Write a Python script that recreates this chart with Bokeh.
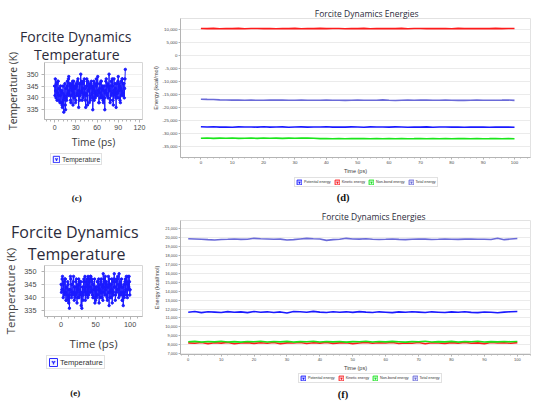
import numpy as np
from bokeh.plotting import figure
from bokeh.layouts import row, column
from bokeh.models import (Legend, LegendItem, FixedTicker, NumeralTickFormatter,
                          ColumnDataSource, Range1d, Title)
from bokeh.core.properties import value
from bokeh.embed import file_html
from bokeh.resources import INLINE

# ---------------- data ----------------
# (c) temperature, K, sampled every 0.5 ps from 0 to 100 ps
c_temp = [
    345, 341, 348, 343, 340, 346, 346, 339, 342, 347, 347, 341, 339, 344, 344, 338, 341, 345, 338, 343,
    343, 337, 336, 342, 345, 339, 334, 341, 340, 346, 337, 335, 344, 340, 339, 345, 347, 341, 342, 348,
    349, 343, 341, 346, 345, 339, 338, 344, 346, 341, 343, 347, 337, 342, 347, 340, 340, 345, 344, 338,
    339, 346, 345, 341, 342, 347, 348, 343, 336, 341, 346, 339, 341, 346, 350, 342, 343, 347, 339, 344,
    346, 340, 342, 347, 348, 341, 344, 339, 336, 342, 345, 348, 341, 337, 347, 343, 343, 346, 338, 344,
    345, 339, 340, 346, 347, 341, 342, 345, 335, 340, 344, 347, 339, 343, 346, 340, 342, 345, 348, 342,
    341, 346, 349, 343, 343, 338, 338, 344, 346, 340, 342, 347, 347, 341, 340, 345, 344, 339, 338, 343,
    345, 340, 335, 342, 343, 347, 348, 342, 341, 345, 346, 340, 340, 345, 350, 344, 343, 338, 339, 345,
    347, 341, 342, 348, 345, 339, 337, 343, 348, 342, 341, 346, 344, 340, 336, 342, 346, 340, 342, 347,
    349, 343, 340, 346, 345, 339, 338, 344, 347, 341, 343, 348, 348, 342, 341, 346, 346, 340, 344, 348,
    352]

# (e) temperature, K, sampled every 0.5 ps
e_temp = [
    345, 342, 343, 347, 348, 343, 340, 345, 346, 341, 342, 347, 347, 342, 339, 344, 344, 339, 341, 346,
    345, 340, 338, 343, 336, 341, 343, 348, 347, 342, 340, 345, 345, 341, 342, 346, 348, 342, 339, 344,
    344, 340, 341, 346, 347, 342, 338, 343, 345, 340, 343, 347, 340, 345, 346, 341, 342, 346, 337, 341,
    336, 342, 344, 339, 341, 346, 347, 342, 343, 348, 339, 344, 346, 341, 342, 347, 345, 340, 348, 344,
    341, 346, 347, 342, 344, 348, 348, 343, 342, 347, 346, 341, 340, 345, 345, 340, 343, 347, 338, 343,
    339, 344, 344, 340, 341, 346, 346, 341, 343, 347, 338, 343, 345, 340, 342, 346, 347, 342, 340, 345,
    344, 339, 349, 344, 342, 347, 346, 341, 348, 343, 341, 346, 345, 340, 339, 344, 344, 348, 342, 337,
    347, 342, 340, 345, 345, 340, 343, 347, 338, 342, 346, 341, 342, 347, 349, 344, 344, 339, 341, 346,
    347, 342, 343, 347, 348, 343, 345, 340, 349, 344, 341, 345, 346, 341, 342, 347, 344, 339, 339, 344,
    337, 342, 345, 340, 341, 346, 347, 342, 343, 348, 346, 341, 340, 345, 348, 343, 344, 348, 346, 341,
    343]

# (d) energies, kcal/mol, sampled every 2 ps
d_pot = [
    -27520, -27610, -27480, -27650, -27570, -27690, -27530, -27620, -27580, -27660,
    -27510, -27640, -27590, -27550, -27670, -27600, -27530, -27640, -27570, -27610,
    -27490, -27630, -27580, -27660, -27540, -27600, -27680, -27560, -27620, -27590,
    -27650, -27530, -27610, -27700, -27580, -27640, -27560, -27690, -27620, -27580,
    -27660, -27610, -27700, -27590, -27650, -27620, -27680, -27600, -27660, -27630,
    -27690]
d_kin = [
    10520, 10480, 10560, 10450, 10530, 10490, 10570, 10440, 10510, 10550,
    10470, 10530, 10460, 10540, 10500, 10580, 10450, 10520, 10490, 10560,
    10470, 10530, 10510, 10440, 10550, 10490, 10570, 10460, 10520, 10500,
    10540, 10480, 10560, 10450, 10530, 10510, 10470, 10550, 10490, 10520,
    10460, 10580, 10500, 10530, 10470, 10540, 10490, 10560, 10480, 10520,
    10510]
d_nb = [
    -31950, -31880, -32010, -31920, -31970, -31860, -31990, -31930, -31900, -31980,
    -31870, -31950, -31910, -31990, -31890, -31960, -31920, -31880, -31970, -32110,
    -32060, -32140, -32080, -32120, -32050, -32110, -32080, -32140, -32060, -32120,
    -32090, -32150, -32070, -32130, -32100, -32060, -32140, -32090, -32120, -32080,
    -32150, -32100, -32070, -32130, -32090, -32140, -32110, -32060, -32120, -32100,
    -32130]
d_tot = [
    -16850, -16920, -16980, -17080, -17150, -17200, -17180, -17220, -17200, -17250,
    -17230, -17200, -17180, -17210, -17250, -17230, -17200, -17220, -17260, -17240,
    -17210, -17230, -17250, -17280, -17240, -17200, -17230, -17270, -17250, -17100,
    -17220, -17310, -17260, -17200, -17240, -17150, -17190, -17260, -17240, -17200,
    -17230, -17280, -17300, -17260, -17210, -17250, -17270, -17240, -17200, -17150,
    -17280]

# (f) energies, kcal/mol, sampled every 2 ps
f_pot = [
    11650, 11720, 11600, 11700, 11660, 11620, 11710, 11640, 11680, 11600,
    11730, 11650, 11690, 11620, 11680, 11560, 11720, 11700, 11640, 11740,
    11660, 11620, 11700, 11650, 11690, 11630, 11710, 11660, 11620, 11690,
    11650, 11600, 11680, 11640, 11700, 11660, 11620, 11690, 11650, 11610,
    11680, 11640, 11700, 11630, 11600, 11670, 11640, 11590, 11660, 11700,
    11720]
f_kin = [
    8200, 8150, 8240, 8120, 8210, 8170, 8260, 8100, 8190, 8230,
    8140, 8220, 8160, 8250, 8110, 8200, 8180, 8240, 8130, 8210,
    8170, 8250, 8140, 8200, 8230, 8120, 8190, 8260, 8150, 8210,
    8180, 8240, 8130, 8200, 8160, 8250, 8110, 8220, 8190, 8140,
    8230, 8170, 8260, 8150, 8200, 8120, 8240, 8180, 8210, 8160,
    8230]
f_nb = [
    8330, 8370, 8290, 8350, 8310, 8380, 8300, 8340, 8280, 8360,
    8320, 8390, 8300, 8350, 8310, 8370, 8290, 8340, 8330, 8380,
    8300, 8350, 8310, 8360, 8290, 8340, 8320, 8380, 8300, 8350,
    8310, 8370, 8330, 8290, 8360, 8320, 8380, 8300, 8340, 8310,
    8370, 8290, 8350, 8320, 8380, 8300, 8340, 8310, 8360, 8330,
    8350]
f_tot = [
    19900, 19880, 19850, 19800, 19760, 19820, 19840, 19870, 19830, 19850,
    19950, 19900, 19870, 19840, 19860, 19760, 19800, 19880, 19950, 19900,
    19870, 19720, 19800, 19850, 19950, 19880, 19860, 19900, 19850, 19820,
    19840, 19870, 19830, 19800, 19850, 19880, 19860, 19820, 19840, 19870,
    19850, 19830, 19860, 19880, 19840, 19850, 19820, 19950, 19800, 19870,
    19930]

series_names = ["Potential energy", "Kinetic energy", "Non-bond energy", "Total energy"]
series_colors = ["#1a1aff", "#ff1a1a", "#1ae61a", "#6a6ad8"]
temp_color = "#1a1aff"

c_xticks = [0, 30, 60, 90, 120]
e_xticks = [0, 50, 100]
temp_yticks = [335, 340, 345, 350]
energy_xticks = list(range(0, 101, 10))
d_yticks = list(range(-35000, 10001, 5000))
f_yticks = list(range(7000, 21001, 1000))

LAB_FONT = "Open Sans"
TICK_FONT = "Liberation Sans"
CAP_FONT = "Liberation Serif"
AX_COL = "#b4b4b4"
TXT_COL = "#2b2b3b"

# frame borders shared by the figures of a column (left, right)
L_MB = (40, 4)
R_MB = (34, 4)


def bottom_fig(W, h, mb):
    p = figure(width=W, height=h, x_range=Range1d(mb[0], W - mb[1]), y_range=Range1d(h, 0),
               min_border_left=mb[0], min_border_right=mb[1], min_border_top=0, min_border_bottom=0,
               x_axis_type=None, y_axis_type=None,
               output_backend="svg", toolbar_location=None)
    p.outline_line_color = None
    return p


def put_text(p, x, y, txt, font, size, style="normal", color=TXT_COL):
    p.text(x=[x], y=[y], text=[txt], text_font=value(font), text_font_size=value(size),
           text_font_style=value(style), text_color=color,
           text_align="center", text_baseline="middle")


def add_legend(p, entries, loc, fsize, glyph, spacing):
    items = []
    for name, col in entries:
        src = ColumnDataSource(dict(l=[-60], r=[-50], b=[-60], t=[-50], x=[-55], y=[-55]))
        box = p.quad(left="l", right="r", bottom="b", top="t", source=src,
                     fill_color="#f2f4ff", line_color=col, line_width=1)
        chk = p.scatter("x", "y", source=src, marker="y", angle=np.pi, size=4,
                        line_color=col, line_width=1.3)
        items.append(LegendItem(label=name, renderers=[box, chk]))
    leg = Legend(items=items, location=loc, orientation="horizontal",
                 label_text_font=TICK_FONT, label_text_font_size=fsize,
                 label_text_color="#333333",
                 glyph_width=glyph, glyph_height=glyph, label_height=glyph,
                 label_standoff=2, padding=1, margin=0, spacing=spacing,
                 border_line_color="#c4c4c4", background_fill_color="white")
    p.add_layout(leg, "center")


def add_titles(p, lines, size, offsets, standoffs):
    # right-aligned titles; offset = distance of the text's right end from the frame's right edge
    for txt, off, so in zip(lines, offsets, standoffs):
        p.add_layout(Title(text=txt, align="right", offset=off, standoff=so,
                           text_font=LAB_FONT, text_font_size=size, text_font_style="normal",
                           text_color=TXT_COL), "above")


def style_axes(p, tick_size, lab_size, lab_font):
    for ax in (p.xaxis[0], p.yaxis[0]):
        ax.axis_line_color = AX_COL
        ax.major_tick_line_color = AX_COL
        ax.minor_tick_line_color = AX_COL
        ax.major_label_text_font = TICK_FONT
        ax.major_label_text_font_size = tick_size
        ax.major_label_text_color = "#484848"
        ax.axis_label_text_font = lab_font
        ax.axis_label_text_font_size = lab_size
        ax.axis_label_text_font_style = "normal"
        ax.axis_label_text_color = "#3a3a3a"


def temp_chart(W, H, top, bot, xr, yr, xticks, temps, tick_size, lab_size, y_std, x_lstd, y_lstd):
    p = figure(width=W, height=H, x_range=Range1d(*xr), y_range=Range1d(*yr),
               output_backend="svg", toolbar_location=None,
               min_border_left=L_MB[0], min_border_right=L_MB[1],
               min_border_top=top, min_border_bottom=bot)
    p.outline_line_color = "#d6d6d6"
    p.xgrid.visible = False
    p.ygrid.grid_line_color = "#f0f0f0"
    t = np.linspace(0, 100, len(temps))
    src = ColumnDataSource(dict(t=t, T=temps))
    p.line("t", "T", source=src, line_color=temp_color, line_width=1)
    p.scatter("t", "T", source=src, size=2.4, color=temp_color)
    step = xticks[1] - xticks[0]
    p.xaxis.ticker = FixedTicker(ticks=xticks,
                                 minor_ticks=[xticks[0] + k * step / 5 for k in range(-5, 5 * len(xticks) + 1)])
    p.yaxis.ticker = FixedTicker(ticks=temp_yticks, minor_ticks=[])
    p.xaxis.axis_label = "Time (ps)"
    p.yaxis.axis_label = "Temperature (K)"
    style_axes(p, tick_size, lab_size, LAB_FONT)
    for ax, std, lstd in ((p.xaxis[0], 2, x_lstd), (p.yaxis[0], y_std, y_lstd)):
        ax.major_tick_out = 3
        ax.major_tick_in = 0
        ax.minor_tick_out = 2
        ax.minor_tick_in = 0
        ax.major_label_standoff = std
        ax.axis_label_standoff = lstd
    return p


def energy_chart(W, H, top, bot, xr, yr, yticks, data, tick_size, y_lstd):
    p = figure(width=W, height=H, x_range=Range1d(*xr), y_range=Range1d(*yr),
               output_backend="svg", toolbar_location=None,
               min_border_left=R_MB[0], min_border_right=R_MB[1],
               min_border_top=top, min_border_bottom=bot)
    p.outline_line_color = "#e2e2e2"
    p.xgrid.visible = False
    p.ygrid.grid_line_color = "#ebebeb"
    for col, vals in zip(series_colors, data):
        t = np.linspace(0, 100, len(vals))
        src = ColumnDataSource(dict(t=t, E=vals))
        p.line("t", "E", source=src, line_color=col, line_width=1.6)
    p.xaxis.ticker = FixedTicker(ticks=energy_xticks, minor_ticks=list(range(-6, 106, 2)))
    p.yaxis.ticker = FixedTicker(ticks=yticks, minor_ticks=[])
    p.yaxis.formatter = NumeralTickFormatter(format="0,0")
    p.xaxis.axis_label = "Time (ps)"
    p.yaxis.axis_label = "Energy (kcal/mol)"
    style_axes(p, tick_size, "5.6px", TICK_FONT)
    p.xaxis.axis_label_text_font_size = "5.5px"
    for ax in (p.xaxis[0], p.yaxis[0]):
        ax.major_tick_out = 2
        ax.major_tick_in = 0
        ax.minor_tick_out = 1
        ax.minor_tick_in = 0
        ax.major_label_standoff = 1
    p.xaxis.axis_label_standoff = 1
    p.yaxis.axis_label_standoff = y_lstd
    return p


# ---------------- panel (c) ----------------
c_chart = temp_chart(146, 151, 62, 28, (-14.3, 124.3), (330.9, 354.9), c_xticks, c_temp,
                     "7px", "10.3px", 3, 2, 4)
add_titles(c_chart, ["Temperature", "Forcite Dynamics"], "14px", [23, 11], [-2, -5])
c_bot = bottom_fig(146, 53, L_MB)
add_legend(c_bot, [("Temperature", "#2a2aff")], (6, 39), "6.8px", 8, 4)
put_text(c_bot, 73.5, 46, "(c)", CAP_FONT, "9px", "bold", "#111111")

# ---------------- panel (e) ----------------
e_chart = temp_chart(146, 149, 61, 36, (-24.1, 117.9), (332.9, 352.1), e_xticks, e_temp,
                     "7.3px", "11.4px", 5, 6, 3)
add_titles(e_chart, ["Temperature", "Forcite Dynamics"], "16px", [17, 4], [1, -5])
e_bot = bottom_fig(146, 49, L_MB)
add_legend(e_bot, [("Temperature", "#2a2aff")], (2, 33), "7.6px", 10, 4)
put_text(e_bot, 72, 39.3, "(e)", CAP_FONT, "9px", "bold", "#111111")

# ---------------- panel (d) ----------------
d_chart = energy_chart(388, 176, 18, 16, (-6.5, 105.1), (-39400, 14400), d_yticks,
                       [d_pot, d_kin, d_nb, d_tot], "4.4px", 1)
add_titles(d_chart, ["Forcite Dynamics Energies"], "8.5px", [112], [0])
d_bot = bottom_fig(388, 28, R_MB)
add_legend(d_bot, list(zip(series_names, series_colors)), (114, 17), "3.7px", 6, 3)
put_text(d_bot, 196.6, 21.2, "(d)", CAP_FONT, "10.5px", "bold", "#111111")

# ---------------- panel (f) ----------------
f_chart = energy_chart(388, 169, 16, 16, (-2.35, 104.0), (6894, 21954), f_yticks,
                       [f_pot, f_kin, f_nb, f_tot], "4px", 2)
add_titles(f_chart, ["Forcite Dynamics Energies"], "8.5px", [105], [-2])
f_bot = bottom_fig(388, 29, R_MB)
add_legend(f_bot, list(zip(series_names, series_colors)), (118, 19), "3.7px", 6, 3)
put_text(f_bot, 196.4, 20.5, "(f)", CAP_FONT, "10.5px", "bold", "#111111")

left = column(c_chart, c_bot, e_chart, e_bot, spacing=0)
right = column(d_chart, d_bot, f_chart, f_bot, spacing=0)
layout = row(left, right, spacing=0)

open("out.html", "w").write(file_html(layout, INLINE))
